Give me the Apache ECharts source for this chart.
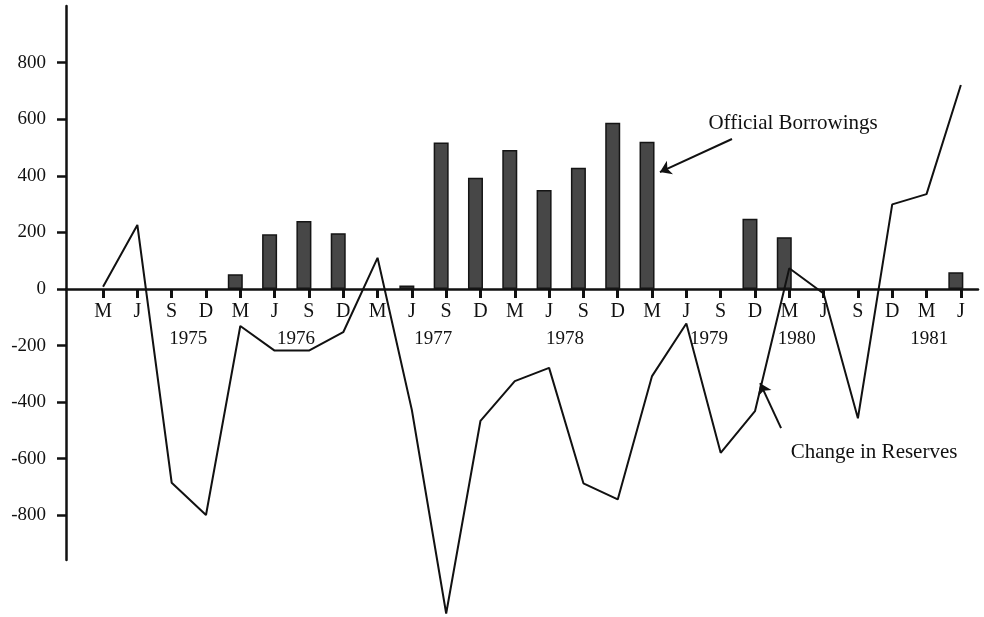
<!DOCTYPE html>
<html>
<head>
<meta charset="utf-8">
<script src="https://cdn.jsdelivr.net/npm/echarts@6/dist/echarts.min.js"></script>
<style>
  html, body { margin: 0; padding: 0; background: #fff; }
  #chart { width: 984px; height: 617px; }
</style>
</head>
<body>
<div id="chart"></div>
<script>
// Quarterly categories, March 1975 .. June 1981
const quarters = ['M','J','S','D', 'M','J','S','D', 'M','J','S','D', 'M','J','S','D',
                  'M','J','S','D', 'M','J','S','D', 'M','J'];
// Official Borrowings (bars)
const borrowings = [null, null, null, null, 52, 193, 240, 197, null, 12, 518, 393,
                    491, 350, 428, 587, 520, null, null, 248, 183, null, null, null, null, 59];
// Change in Reserves (line)
const reserves = [8, 226, -685, -799, -131, -218, -218, -153, 110, -428, -1147, -466,
                  -326, -279, -687, -744, -308, -122, -579, -432, 73, -16, -457, 299, 335, 721];
// Year labels and where they sit along the quarter axis (in quarter-index units)
const years = ['1975', '1976', '1977', '1978', '1979', '1980', '1981'];
const yearAt = [2.48, 5.62, 9.62, 13.46, 17.66, 20.22, 24.08];
// Y tick labels
const yTicks = [-800, -600, -400, -200, 0, 200, 400, 600, 800];

const FONT = 'Liberation Serif';
const INK = '#111';

const W = 984, H = 617;
const GRID = { left: 66, right: 6, top: 6, bottom: 57 };
const Y_MIN = -958, Y_MAX = 1000;
const X_MIN = -1.08, X_MAX = 25.5;
// in the original, bars sit slightly left of their tick marks
const BAR_SHIFT = 0.146;
// the x axis sits on the zero line: shift it up from the grid bottom
const gridH = H - GRID.top - GRID.bottom;
const zeroShift = -gridH * (0 - Y_MIN) / (Y_MAX - Y_MIN);

const quarterIdx = quarters.map((_, i) => i);
const lineData = reserves.map((v, i) => [i, v]);
const barData = borrowings.map((v, i) => [i, v]).filter(d => d[1] !== null);

const chart = echarts.init(document.getElementById('chart'), null, { renderer: 'canvas' });

const option = {
  animation: false,
  backgroundColor: '#fff',
  grid: Object.assign({ containLabel: false }, GRID),
  xAxis: [
    {
      type: 'value',
      min: X_MIN, max: X_MAX,
      position: 'bottom',
      offset: zeroShift,
      axisLine: { show: true, onZero: false, lineStyle: { color: INK, width: 2.5 } },
      axisTick: { show: true, customValues: quarterIdx, length: 9, lineStyle: { color: INK, width: 3 } },
      axisLabel: {
        show: true, customValues: quarterIdx, margin: 13,
        formatter: v => quarters[Math.round(v)] || '',
        color: INK, fontFamily: FONT, fontSize: 20
      },
      splitLine: { show: false }
    },
    {
      type: 'value',
      position: 'bottom',
      offset: zeroShift,
      min: X_MIN, max: X_MAX,
      axisLine: { show: false, onZero: false },
      axisTick: { show: false },
      axisLabel: {
        show: true, customValues: yearAt, margin: 41,
        formatter: v => {
          const k = yearAt.findIndex(p => Math.abs(p - v) < 1e-6);
          return k >= 0 ? years[k] : '';
        },
        color: INK, fontFamily: FONT, fontSize: 19
      },
      splitLine: { show: false }
    },
    {
      type: 'value',
      show: false,
      min: X_MIN + BAR_SHIFT, max: X_MAX + BAR_SHIFT,
      splitLine: { show: false }
    }
  ],
  yAxis: {
    type: 'value',
    min: Y_MIN, max: Y_MAX,
    axisLine: { show: true, onZero: false, lineStyle: { color: INK, width: 2.5 } },
    axisTick: { show: true, customValues: yTicks, length: 9, lineStyle: { color: INK, width: 2.5 } },
    axisLabel: {
      show: true, customValues: yTicks, margin: 20,
      formatter: v => String(v),
      color: INK, fontFamily: FONT, fontSize: 19
    },
    splitLine: { show: false }
  },
  series: [
    {
      name: 'Official Borrowings',
      type: 'bar',
      xAxisIndex: 2,
      data: barData,
      barWidth: 15,
      itemStyle: { color: '#474747', borderColor: '#151515', borderWidth: 1.5 },
      z: 2
    },
    {
      name: 'Change in Reserves',
      type: 'line',
      xAxisIndex: 0,
      data: lineData,
      clip: false,
      symbol: 'none',
      lineStyle: { color: INK, width: 2 },
      z: 3,
      markLine: {
        silent: true,
        symbol: ['none', 'arrow'],
        symbolSize: 11,
        label: { show: false },
        lineStyle: { color: INK, width: 2, type: 'solid' },
        data: [
          [{ coord: [18.33, 530] }, { coord: [16.23, 413] }],
          [{ coord: [19.76, -492] }, { coord: [19.15, -333] }]
        ]
      },
      markPoint: {
        silent: true,
        symbol: 'circle',
        symbolSize: 1,
        itemStyle: { color: 'rgba(0,0,0,0)' },
        label: {
          show: true, position: 'inside', formatter: '{b}',
          color: INK, fontFamily: FONT, fontSize: 21
        },
        data: [
          { name: 'Official Borrowings', coord: [20.11, 586] },
          { name: 'Change in Reserves', coord: [22.47, -577] }
        ]
      }
    }
  ]
};

chart.setOption(option);
</script>
</body>
</html>
